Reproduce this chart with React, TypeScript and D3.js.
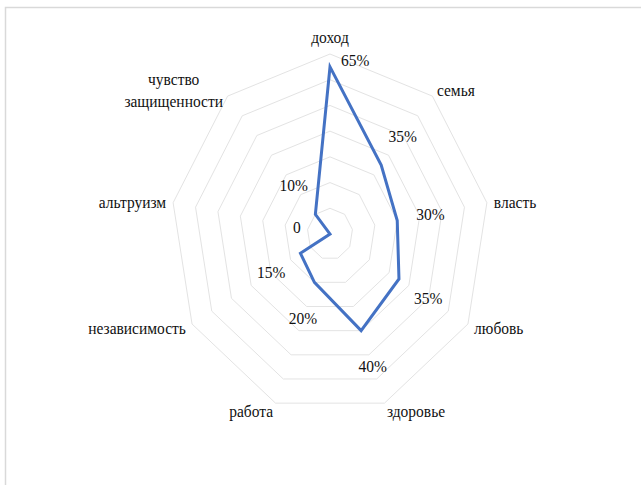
import React, { useEffect, useRef } from "react";
import * as d3 from "d3";

const categories = [
  "доход",
  "семья",
  "власть",
  "любовь",
  "здоровье",
  "работа",
  "независимость",
  "альтруизм",
  "чувство защищенности",
];
const values = [65, 35, 30, 35, 40, 20, 15, 0, 10];
const valueLabels = ["65%", "35%", "30%", "35%", "40%", "20%", "15%", "0", "10%"];
const ringTicks = [10, 20, 30, 40, 50, 60, 70];

export default function App() {
  const ref = useRef<SVGSVGElement>(null);

  useEffect(() => {
    const W = 641;
    const H = 485;
    const sx = 0.885;
    const cx = 330 / sx;
    const cy = 234;
    const R = 180;
    const font = '"Liberation Serif", "Times New Roman", serif';
    const fontSize = 17.5;
    const textColor = "#111111";

    const svg = d3.select(ref.current);
    svg.selectAll("*").remove();

    svg
      .append("rect")
      .attr("x", 0)
      .attr("y", 0)
      .attr("width", W)
      .attr("height", H)
      .attr("fill", "#ffffff");
    svg
      .append("rect")
      .attr("x", 5.5)
      .attr("y", 7.5)
      .attr("width", W + 20)
      .attr("height", H + 20)
      .attr("fill", "#ffffff")
      .attr("stroke", "#d9d9d9")
      .attr("stroke-width", 1.5);

    const g = svg.append("g").attr("transform", `scale(${sx},1)`);
    const r = d3.scaleLinear().domain([0, 70]).range([0, R]);
    const n = categories.length;
    const ang = (i: number) => (i * 2 * Math.PI) / n;
    const pt = (i: number, rad: number): [number, number] => [
      cx + rad * Math.sin(ang(i)),
      cy - rad * Math.cos(ang(i)),
    ];
    const line = d3.line().curve(d3.curveLinearClosed);

    ringTicks.forEach((t) => {
      g.append("path")
        .attr("d", line(categories.map((_, i) => pt(i, r(t)))) as string)
        .attr("fill", "none")
        .attr("stroke", "#e3e3e3")
        .attr("stroke-width", 1)
        .attr("vector-effect", "non-scaling-stroke");
    });

    g.append("path")
      .attr("d", line(values.map((v, i) => pt(i, r(v)))) as string)
      .attr("fill", "none")
      .attr("stroke", "#4472c4")
      .attr("stroke-width", 3)
      .attr("stroke-linejoin", "miter")
      .attr("vector-effect", "non-scaling-stroke");

    // category labels
    categories.forEach((c, i) => {
      const s = Math.sin(ang(i));
      const top = Math.abs(s) < 0.01 && Math.cos(ang(i)) > 0;
      const [x, y] = pt(i, top ? R + 17 : R + 8);
      const anchor = Math.abs(s) < 0.01 ? "middle" : s > 0 ? "start" : "end";
      const words = c.split(" ");
      const lh = 22;
      const text = g
        .append("text")
        .style("font-family", font)
        .style("font-size", `${fontSize}px`)
        .attr("fill", textColor)
        .attr("text-anchor", words.length > 1 ? "middle" : anchor)
        .attr("dominant-baseline", "central");
      words.forEach((w, k) => {
        text
          .append("tspan")
          .attr("x", x)
          .attr("y", y + (k - (words.length - 1) / 2) * lh)
          .text(w);
      });
      if (words.length > 1 && anchor !== "middle") {
        const bb = (text.node() as SVGTextElement).getBBox();
        const shift = anchor === "end" ? -bb.width / 2 : bb.width / 2;
        text.selectAll("tspan").attr("x", x + shift);
      }
    });

    // value labels
    values.forEach((v, i) => {
      const rv = r(v);
      const t = g
        .append("text")
        .style("font-family", font)
        .style("font-size", `${fontSize}px`)
        .attr("fill", textColor)
        .text(valueLabels[i]);
      if (rv + 37 > R) {
        const [x, y] = pt(i, rv);
        t.attr("x", x + 12.5).attr("y", y - 1).attr("text-anchor", "start");
      } else {
        const [x, y] = pt(i, rv + 38);
        t.attr("x", x)
          .attr("y", y)
          .attr("text-anchor", "middle")
          .attr("dominant-baseline", "central");
      }
    });
  }, []);

  return (
    <svg
      ref={ref}
      width={641}
      height={485}
      style={{ position: "absolute", left: 0, top: 0, display: "block" }}
    />
  );
}
